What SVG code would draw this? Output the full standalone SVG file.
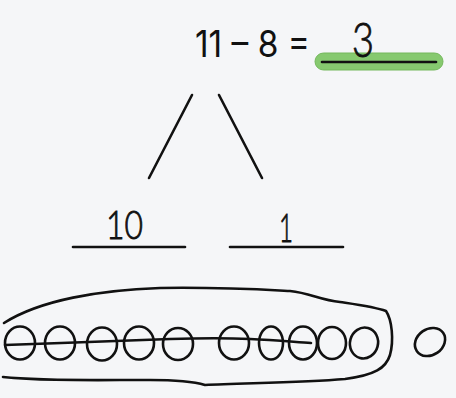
<svg xmlns="http://www.w3.org/2000/svg" width="456" height="398" viewBox="0 0 456 398">
<style>
.ink{fill:none;stroke:#111;stroke-width:2.6;stroke-linecap:round;stroke-linejoin:round}
.hand{font-family:Lato,"Liberation Sans",Arial,sans-serif;font-weight:300;fill:#111;stroke:#111;stroke-width:0.9}
.eq{font-family:Inter,"Liberation Sans",sans-serif;fill:#111}
</style>
<rect width="456" height="398" fill="#f5f6f8"/>
<g id="equation">
<text class="eq" x="195" y="57" font-size="37" textLength="115" lengthAdjust="spacingAndGlyphs">11 – 8 =</text>
<rect x="315" y="53" width="128" height="17" rx="8.5" fill="#86c96f" stroke="#74b85d" stroke-width="1"/>
<line class="ink" x1="322" y1="62" x2="436" y2="62"/>
<text class="hand" x="352" y="57" font-size="48" textLength="22" lengthAdjust="spacingAndGlyphs">3</text>
</g>
<g id="connectors">
<line class="ink" x1="192" y1="95" x2="149" y2="178"/>
<line class="ink" x1="219" y1="95" x2="262" y2="178"/>
</g>
<g id="part-10">
<text class="hand" x="106" y="239" font-size="40" textLength="37" lengthAdjust="spacingAndGlyphs">10</text>
<line class="ink" x1="73" y1="247" x2="185" y2="247"/>
</g>
<g id="part-1">
<text class="hand" x="279" y="242" font-size="40" textLength="14" lengthAdjust="spacingAndGlyphs">1</text>
<line class="ink" x1="230" y1="247" x2="343" y2="247"/>
</g>
<g id="counters">
<path class="ink" d="M4 323 C40 300 100 290 160 288 C220 287 270 290 290 291 C310 293 320 300 340 302 C360 305 375 307 386 311 C392 320 394 340 390 355 C386 368 375 375 345 379 C300 383 240 383 205 385 C195 382 180 380 150 380 C90 380 40 381 3 377"/>
<ellipse class="ink" cx="20" cy="343" rx="15" ry="16.5"/>
<ellipse class="ink" cx="60" cy="343" rx="15" ry="16.5"/>
<ellipse class="ink" cx="102" cy="344" rx="15" ry="16.5"/>
<ellipse class="ink" cx="139" cy="343" rx="15" ry="16.5"/>
<ellipse class="ink" cx="178" cy="344" rx="15" ry="16"/>
<ellipse class="ink" cx="234" cy="343" rx="15" ry="16.5"/>
<ellipse class="ink" cx="271" cy="343" rx="12" ry="16.5"/>
<ellipse class="ink" cx="303" cy="343" rx="14" ry="16.5"/>
<ellipse class="ink" cx="332" cy="343" rx="14" ry="16"/>
<ellipse class="ink" cx="364" cy="343" rx="14" ry="15.5" transform="rotate(15 364 343)"/>
<ellipse class="ink" cx="430" cy="342" rx="16" ry="13" transform="rotate(-35 430 342)"/>
<path class="ink" d="M5 345 C60 343 120 341 170 339 C200 338 230 338 250 339 C275 340 295 342 311 343"/>
</g>
</svg>
